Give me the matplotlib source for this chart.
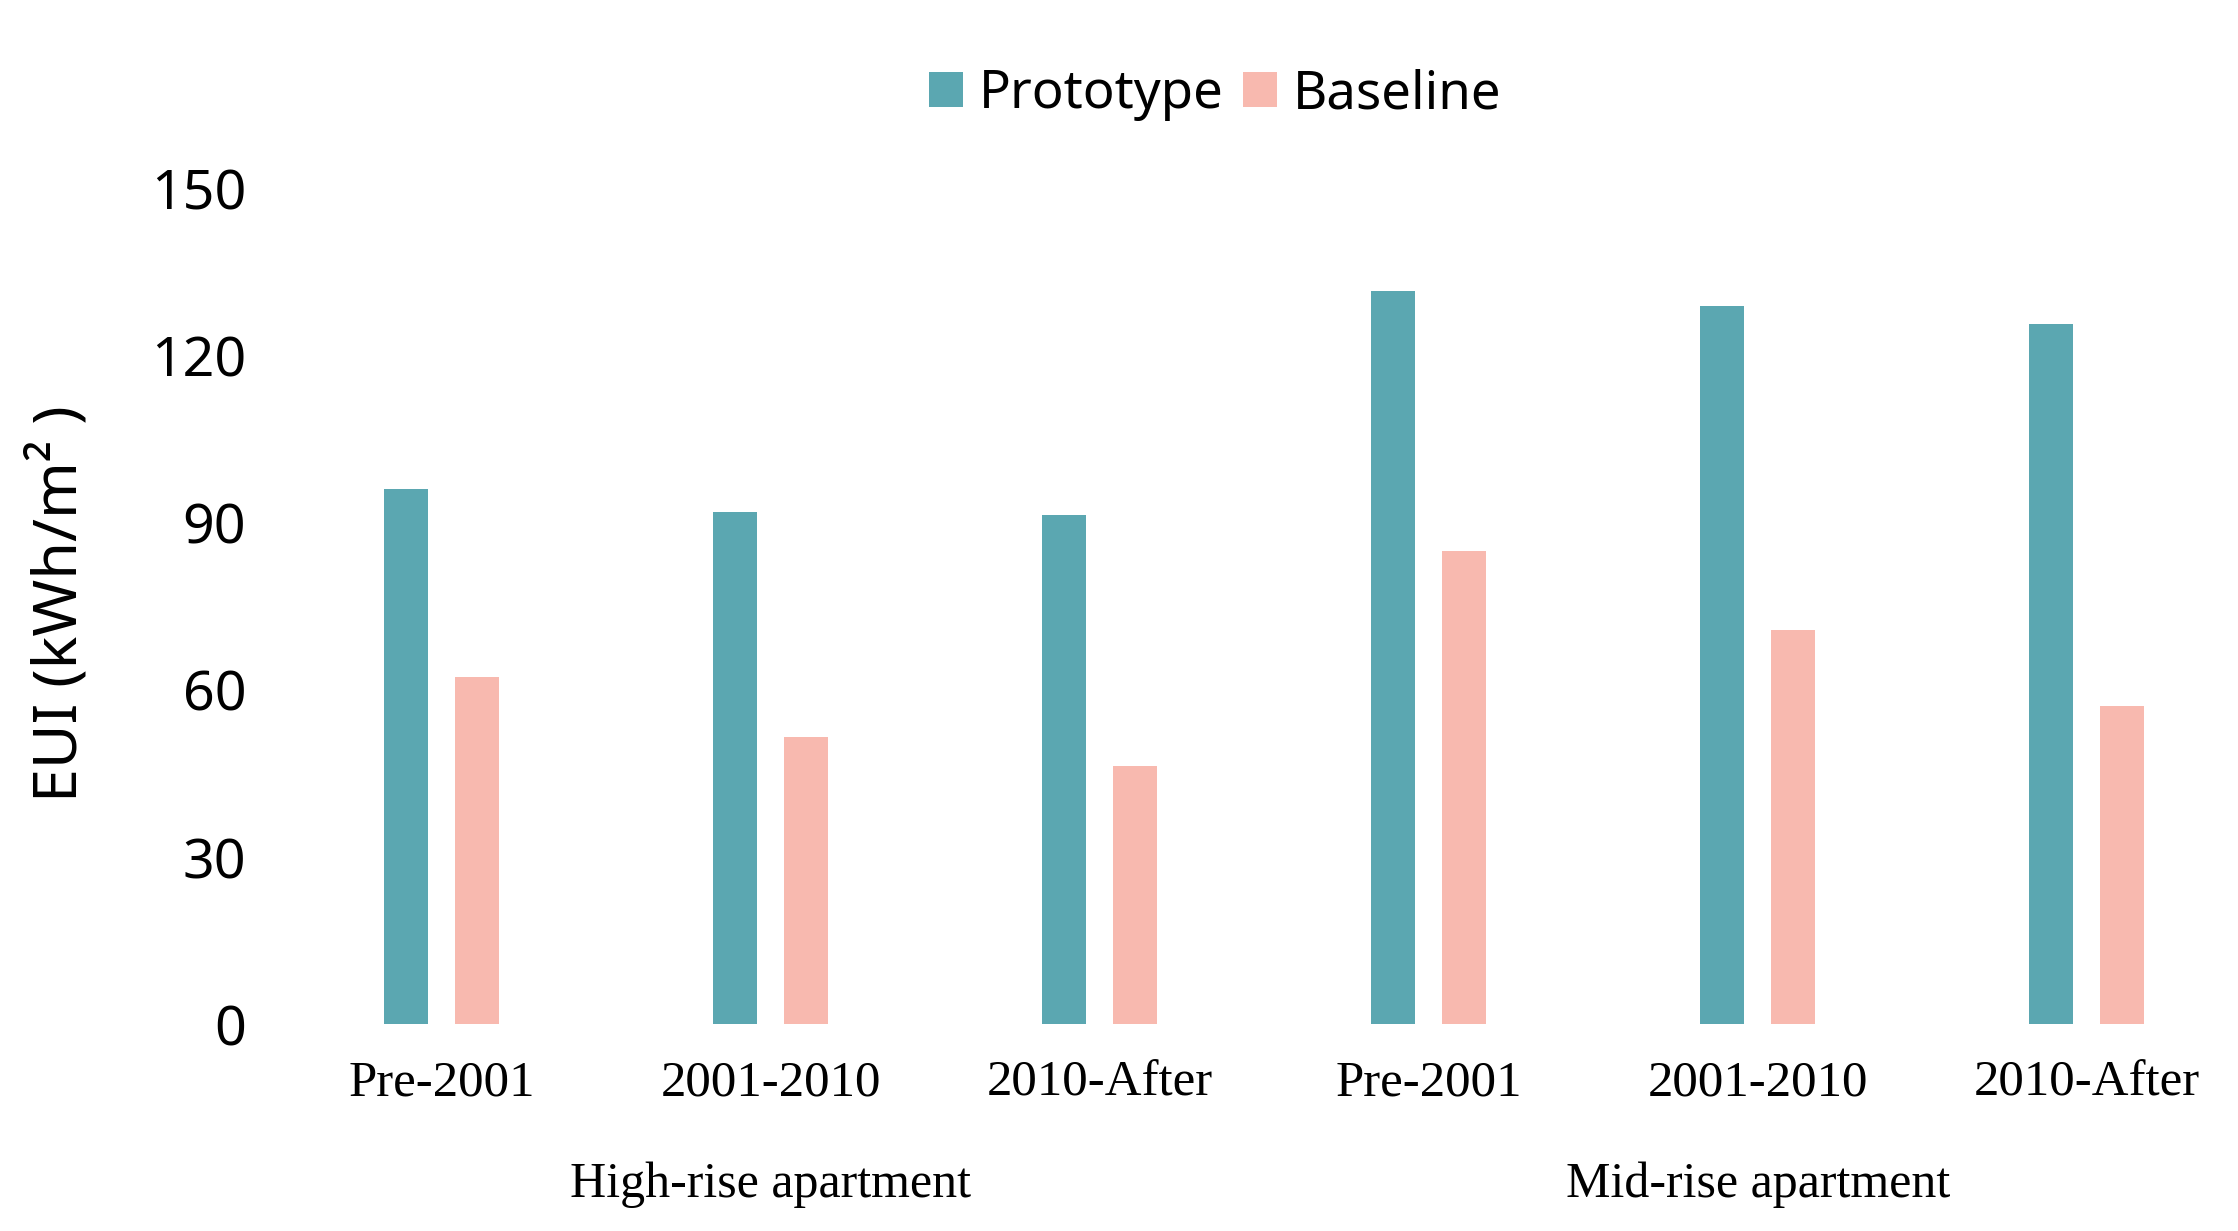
import numpy as np
import matplotlib
matplotlib.use("Agg")
import matplotlib.pyplot as plt
import matplotlib.transforms as mtransforms

# data
periods = ["Pre-2001", "2001-2010", "2010-After", "Pre-2001", "2001-2010", "2010-After"]
building_types = ["High-rise apartment", "Mid-rise apartment"]
prototype = [96.0, 91.9, 91.3, 131.5, 128.9, 125.6]
baseline = [62.3, 51.5, 46.3, 84.9, 70.8, 57.1]

teal = "#5BA7B1"
pink = "#F8B9AF"

fig = plt.figure(figsize=(11.19, 6.155), dpi=200)
ax = fig.add_axes([0.115, 0.168, 0.885, 0.679])

x = np.arange(len(periods))
w = 0.135
off = 0.108
ax.bar(x - off, prototype, w, color=teal, label="Prototype")
ax.bar(x + off, baseline, w, color=pink, label="Baseline")

ax.set_xlim(-0.56, 5.46)
ax.set_ylim(0, 150)
ax.set_yticks([0, 30, 60, 90, 120, 150])
ax.set_xticks(x)
ax.set_xticklabels(periods, family="Liberation Serif", fontsize=18.3)
for lab in ax.get_yticklabels():
    lab.set_family("Noto Sans")
    lab.set_fontsize(20)
ax.tick_params(axis="both", length=0)
ax.tick_params(axis="x", pad=13)
ax.tick_params(axis="y", pad=4)
for s in ax.spines.values():
    s.set_visible(False)

# group labels under the period labels
trans = mtransforms.blended_transform_factory(ax.transData, ax.transAxes)
for i, name in enumerate(building_types):
    ax.text(1 + 3 * i, -0.192, name, transform=trans, ha="center", va="center",
            family="Liberation Serif", fontsize=18)

fig.text(0.027, 0.51, "EUI (kWh/m² )", rotation=90, ha="center", va="center",
         family="Noto Sans", fontsize=22)

fig.legend(loc="center", bbox_to_anchor=(0.543, 0.923), ncol=2, frameon=False,
           prop={"family": "Noto Sans", "size": 19}, handlelength=0.65,
           handleheight=0.65, handletextpad=0.3, columnspacing=0.35)

fig.savefig("out.png", dpi=200)
